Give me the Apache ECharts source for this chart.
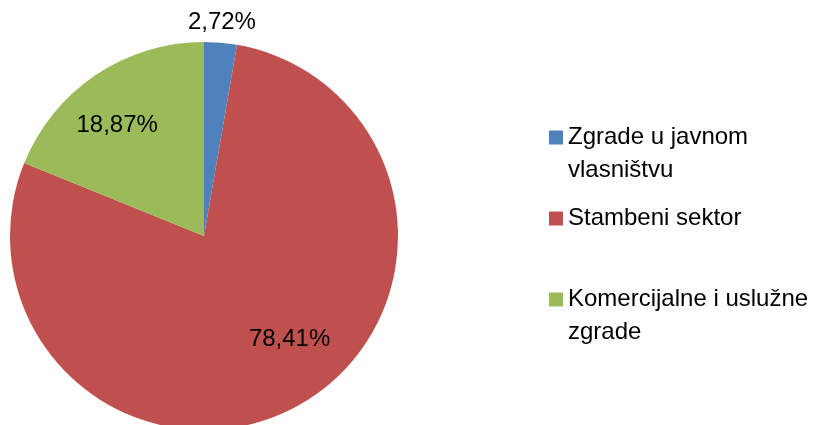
<!DOCTYPE html>
<html lang="hr">
<head>
  <meta charset="UTF-8">
  <title>Udio sektora</title>
  <style>
    * { margin: 0; padding: 0; }
    body { background: #ffffff; }
    #chart { width: 814px; height: 425px; }
  </style>
</head>
<body>
  <div id="chart"></div>
  <script src="https://cdn.jsdelivr.net/npm/echarts@6/dist/echarts.min.js"></script>
  <script type="text/javascript">
  // podaci
  var categories = ['Zgrade u javnom\nvlasništvu', 'Stambeni sektor', 'Komercijalne i uslužne\nzgrade'];
  var values = [2.72, 78.41, 18.87];
  var colors = ['#4f81bd', '#c0504d', '#9bbb59'];

  var labelShift = [[-38, -16], [37, 16], [-31, -28]];
  var font = 'Liberation Sans';

  function main () {
    var chart = echarts.init(document.getElementById('chart'));
    var data = categories.map(function (name, i) {
      return {
        name: name,
        value: values[i],
        itemStyle: { color: colors[i] },
        label: { position: i === 0 ? 'outside' : 'inside' }
      };
    });
    var option = {
      animation: false,
      legend: {
        orient: 'vertical',
        left: 549,
        top: 88,
        padding: 0,
        itemWidth: 14,
        itemHeight: 14,
        itemGap: 15,
        icon: 'rect',
        // blank first line keeps the marker level with the first text line
        formatter: function (name) {
          return name.indexOf('\n') >= 0 ? ' \n' + name : name;
        },
        textStyle: { fontFamily: font, fontSize: 24, color: '#000', lineHeight: 33 }
      },
      series: [{
        type: 'pie',
        center: [204, 236],
        radius: [0, 194],
        startAngle: 90,
        clockwise: true,
        silent: true,
        label: {
          show: true,
          fontFamily: font,
          fontSize: 24,
          color: '#000',
          formatter: function (p) {
            return p.value.toFixed(2).replace('.', ',') + '%';
          }
        },
        labelLine: { show: false, length: 4, length2: 0 },
        labelLayout: function (p) {
          var s = labelShift[p.dataIndex];
          return { dx: s[0], dy: s[1] };
        },
        data: data
      }]
    };
    chart.setOption(option);
  }

  window.addEventListener('load', main);
  </script>
</body>
</html>
